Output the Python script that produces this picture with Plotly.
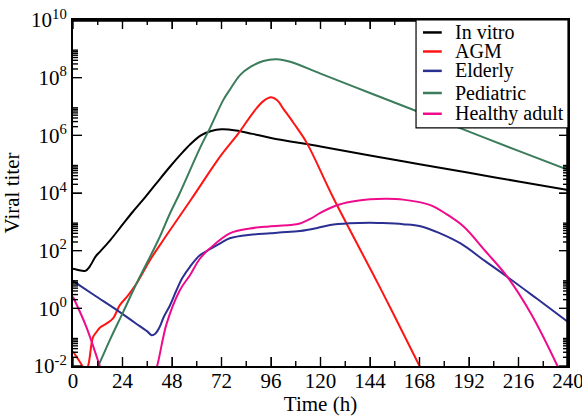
import plotly.graph_objects as go

# ---------------- data (time in h, titer as log10 exponent) ----------------
invitro_t = [0, 2, 6, 8, 11, 13, 18, 24, 29, 34, 40, 47, 52, 57, 62, 67, 72, 79, 87, 96,
             120, 144, 168, 192, 216, 240]
invitro_lg = [1.37, 1.34, 1.30, 1.44, 1.80, 1.96, 2.36, 2.90, 3.35, 3.77, 4.30, 4.91, 5.32,
              5.70, 6.00, 6.15, 6.21, 6.17, 6.05, 5.91, 5.61, 5.30, 5.00, 4.70, 4.40, 4.10]

agm_t = [0, 4.5, 5.8, 7.3, 9.7, 11.4, 13, 16.2, 19.4, 22.7, 26.7, 30.8, 37.3, 43.7, 47,
         57.5, 71.3, 80, 88, 92, 96, 99, 102, 107, 113.4, 126, 149, 168, 171]
agm_lg = [-1.5, -2.0, -2.2, -2.0, -1.0, -0.82, -0.67, -0.53, -0.35, 0.11, 0.45, 0.86, 1.67,
          2.36, 2.71, 3.80, 5.26, 6.05, 6.85, 7.17, 7.32, 7.22, 6.92, 6.42, 5.73, 3.86, 0.70,
          -2.0, -2.45]

elderly_t = [0, 10, 22.7, 30, 36, 38.1, 40, 42, 44, 47, 50, 53, 56.7, 61.5, 66.4, 72, 76, 86,
             95.6, 100, 110, 118, 124.7, 134, 144, 149, 160, 168.5, 178, 187.9, 200, 210.6,
             225, 240]
elderly_lg = [0.95, 0.47, -0.13, -0.50, -0.80, -0.93, -0.87, -0.65, -0.30, 0.10, 0.60, 1.05,
              1.44, 1.84, 2.05, 2.28, 2.43, 2.55, 2.60, 2.63, 2.68, 2.78, 2.89, 2.95, 2.97,
              2.96, 2.92, 2.85, 2.60, 2.25, 1.63, 1.09, 0.33, -0.47]

pediatric_t = [9, 12.2, 17.8, 24.3, 30.8, 41.3, 47, 51.8, 61.5, 66.4, 72.9, 76.2, 81, 86.2,
               92.3, 98.8, 105.3, 120, 144, 168, 192, 216, 240]
pediatric_lg = [-2.45, -2.0, -1.11, -0.13, 0.86, 2.36, 3.29, 4.00, 5.55, 6.25, 7.23, 7.60,
                8.09, 8.38, 8.58, 8.64, 8.55, 8.14, 7.47, 6.80, 6.13, 5.46, 4.80]

adult_t = [0, 6.5, 13, 15.5, None, 38.5, 40.8, 45.4, 51.8, 56.7, 61.5, 66.4, 76, 85.8, 95,
           105.3, 110, 115, 119.9, 124.7, 129.6, 137, 144, 152, 160, 173.3, 181, 189.5, 200,
           210.6, 222, 234.9, 238]
adult_lg = [0.40, -0.65, -2.0, -2.5, None, -2.5, -2.0, -0.53, 0.63, 1.15, 1.72, 2.08, 2.60,
            2.77, 2.84, 2.89, 2.94, 3.10, 3.31, 3.48, 3.61, 3.72, 3.78, 3.80, 3.77, 3.58, 3.27,
            2.83, 1.98, 1.09, -0.18, -2.0, -2.5]

series_names = ["In vitro", "AGM", "Elderly", "Pediatric", "Healthy adult"]
series_colors = ["#000000", "#ff1414", "#2b2f91", "#3b7c5b", "#ee0b8c"]
series_t = [invitro_t, agm_t, elderly_t, pediatric_t, adult_t]
series_lg = [invitro_lg, agm_lg, elderly_lg, pediatric_lg, adult_lg]

x_range = [0, 240]
y_exp_range = [-2, 10]
x_ticks = list(range(0, 241, 24))
x_minor = list(range(12, 240, 24))
y_exps = [-2, 0, 2, 4, 6, 8, 10]

FONT = "Liberation Serif"

# plot-area size in px (figure 582x416, margins l73 r14 t20 b50)
PW, PH = 582 - 73 - 14, 416 - 20 - 50
px_per_h = PW / (x_range[1] - x_range[0])
px_per_dec = PH / (y_exp_range[1] - y_exp_range[0])

fig = go.Figure()
for name, col, t, lg in zip(series_names, series_colors, series_t, series_lg):
    y = [None if v is None else 10 ** v for v in lg]
    fig.add_trace(go.Scatter(x=t, y=y, mode="lines", name=name, showlegend=False,
                             connectgaps=False, hoverinfo="skip",
                             line=dict(color=col, width=2, shape="spline", smoothing=1)))

minor_y = [k * 10.0 ** e for e in y_exps[:-1] for k in range(2, 10)]

# ----- inward tick marks on all four sides (drawn on the axes' own scales) -----
tx, ty = [], []
for vals, ln in ((x_ticks, 9), (x_minor, 5)):
    d = ln / px_per_dec
    for v in vals:
        tx += [v, v, None, v, v, None]
        ty += [10 ** y_exp_range[0], 10 ** (y_exp_range[0] + d), None,
               10 ** y_exp_range[1], 10 ** (y_exp_range[1] - d), None]
for vals, ln in (([10.0 ** e for e in y_exps], 9), (minor_y, 5)):
    d = ln / px_per_h
    for v in vals:
        tx += [x_range[0], x_range[0] + d, None, x_range[1], x_range[1] - d, None]
        ty += [v, v, None, v, v, None]
fig.add_trace(go.Scatter(x=tx, y=ty, mode="lines", showlegend=False, hoverinfo="skip",
                         connectgaps=False, line=dict(color="black", width=1.4)))
# top and right border of the frame
fig.add_trace(go.Scatter(x=[x_range[0], x_range[1], x_range[1]],
                         y=[10 ** y_exp_range[1], 10 ** y_exp_range[1], 10 ** y_exp_range[0]],
                         mode="lines", showlegend=False, hoverinfo="skip",
                         line=dict(color="black", width=3.5)))

common = dict(showgrid=False, zeroline=False, automargin=False, showline=True,
              linecolor="black", linewidth=2, mirror="ticks", ticks="inside",
              tickcolor="black", layer="above traces")

fig.update_layout(
    template="none",
    width=582, height=416, margin=dict(l=73, r=14, t=20, b=50),
    plot_bgcolor="white", paper_bgcolor="white",
    font=dict(family=FONT, color="black"), showlegend=False,
    xaxis=dict(range=x_range, tickvals=x_ticks, ticktext=[str(v) for v in x_ticks],
               ticklen=9, tickwidth=1.4, ticklabeloverflow="allow", ticklabelstandoff=-5,
               tickfont=dict(family=FONT, size=21, color="black"),
               title=dict(text="Time (h)", font=dict(family=FONT, size=21, color="black"),
                          standoff=9),
               **common),
    yaxis=dict(type="log", range=y_exp_range, tickvals=[10.0 ** e for e in y_exps],
               ticktext=["10<sup>%d</sup>" % e for e in y_exps],
               ticklen=9, tickwidth=1.4, ticklabeloverflow="allow",
               tickfont=dict(family=FONT, size=21, color="black"),
               title=dict(text="Viral titer", font=dict(family=FONT, size=21, color="black"),
                          standoff=6),
               **common),
)

# ---------------- legend box ----------------
shapes = [dict(type="rect", xref="paper", yref="paper", x0=0.693, x1=1.0, y0=0.688, y1=1.0,
               line=dict(color="black", width=1.2), fillcolor="white", layer="above")]
annotations = []
leg_y = [0.964, 0.909, 0.853, 0.789, 0.729]
for name, col, yy in zip(series_names, series_colors, leg_y):
    shapes.append(dict(type="line", xref="paper", yref="paper", x0=0.707, x1=0.745,
                       y0=yy, y1=yy, line=dict(color=col, width=2.5), layer="above"))
    annotations.append(dict(xref="paper", yref="paper", x=0.767, y=yy, text=name,
                            showarrow=False, xanchor="left", yanchor="middle", align="left",
                            font=dict(family=FONT, size=20, color="black")))
fig.update_layout(shapes=shapes, annotations=annotations)

fig.write_html("out.html")
